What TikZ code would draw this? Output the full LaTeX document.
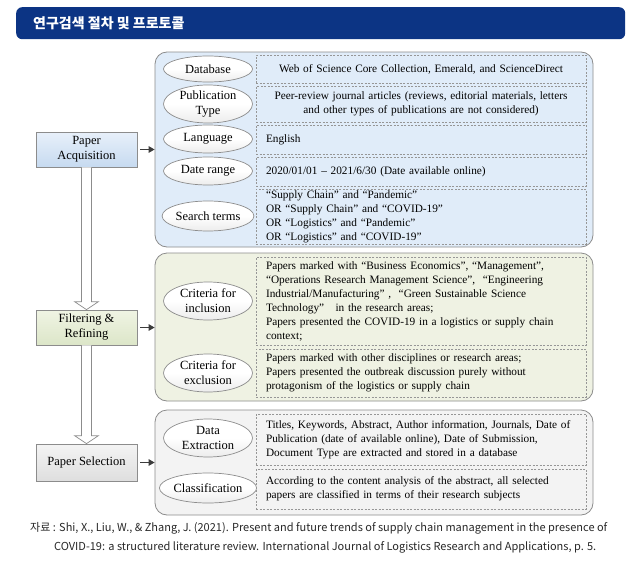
\documentclass[tikz,border=0pt]{standalone}
\usepackage{fontspec}
\setmainfont{Liberation Serif}
\newfontfamily\kr{Noto Sans CJK KR}
\usetikzlibrary{shapes.geometric,arrows.meta,calc}
\definecolor{navy}{RGB}{12,52,132}
\definecolor{pblue}{RGB}{224,236,249}
\definecolor{pgreen}{RGB}{239,242,227}
\definecolor{pgray}{RGB}{243,243,243}
\definecolor{edge}{RGB}{140,140,140}
\definecolor{dedge}{RGB}{150,150,150}
\definecolor{arrowc}{RGB}{60,60,60}
\definecolor{captc}{RGB}{40,40,40}
\begin{document}
\begin{tikzpicture}[x=1pt,y=-1pt,
  panel/.style={draw=edge, line width=0.8pt, rounded corners=12pt, inner sep=0pt, minimum width=438pt},
  leftbox/.style={draw=edge, line width=0.7pt, minimum width=101pt, minimum height=35pt, inner sep=0pt, align=center, font=\fontsize{12.5}{15}\selectfont},
  oval/.style={ellipse, draw=edge, line width=0.7pt, top color=white, bottom color={rgb,255:red,236;green,236;blue,236}, middle color=white, minimum width=89pt, inner sep=0pt, align=center, font=\fontsize{12.5}{15}\selectfont},
  dbox/.style={draw=dedge, dash pattern=on 2pt off 1.5pt, line width=0.6pt, minimum width=330pt, inner xsep=10pt, inner ysep=0pt, text width=310pt, font=\fontsize{11.3}{14}\selectfont},
  linkarrow/.style={draw=arrowc, line width=1.2pt, -{Triangle[length=6pt,width=6.5pt]}},
  hollow/.style={draw=edge, line width=0.7pt, fill=white, line join=miter}
]
\useasboundingbox (0,0) rectangle (642,562);
\fill[white] (0,0) rectangle (642,562);

% title
\node[fill=navy, rounded corners=6pt, minimum width=609pt, minimum height=32pt, inner sep=0pt, anchor=north west] (title) at (16,7) {};
\node[anchor=west, text=white, font=\kr\bfseries\fontsize{14}{16}\selectfont, inner sep=0pt] (titletext) at (33,23) {연구검색 절차 및 프로토콜};

% panels
\node[panel, fill=pblue, minimum height=195pt] (p1) at (374,149.5) {};
\node[panel, fill=pgreen, minimum height=148pt] (p2) at (374,327) {};
\node[panel, fill=pgray, minimum height=105pt] (p3) at (374,462.5) {};

% left boxes
\node[leftbox, top color={rgb,255:red,232;green,240;blue,250}, bottom color={rgb,255:red,198;green,218;blue,240}] (pa) at (86.5,149.5) {Paper\\Acquisition};
\node[leftbox, top color={rgb,255:red,240;green,244;blue,228}, bottom color={rgb,255:red,220;green,230;blue,200}] (fr) at (86.5,327.5) {Filtering \&\\Refining};
\node[leftbox, minimum height=37pt, top color={rgb,255:red,244;green,244;blue,244}, bottom color={rgb,255:red,222;green,222;blue,222}] (ps) at (86.5,462.5) {Paper Selection};

% hollow arrows
\draw[hollow] ($(pa.south)+(-5,0)$) -- ($(fr.north)+(-5,-8)$) -- ($(fr.north)+(-12,-8)$) -- (fr.north) -- ($(fr.north)+(12,-8)$) -- ($(fr.north)+(5,-8)$) -- ($(pa.south)+(5,0)$);
\draw[hollow] ($(fr.south)+(-5,0)$) -- ($(ps.north)+(-5,-8)$) -- ($(ps.north)+(-12,-8)$) -- (ps.north) -- ($(ps.north)+(12,-8)$) -- ($(ps.north)+(5,-8)$) -- ($(fr.south)+(5,0)$);

% link arrows
\draw[linkarrow] ($(pa.east)+(3,0)$) -- (p1.west |- pa.east);
\draw[linkarrow] ($(fr.east)+(3,0)$) -- (p2.west |- fr.east);
\draw[linkarrow] ($(ps.east)+(3,0)$) -- (p3.west |- ps.east);

% panel 1
\node[oval, minimum height=26pt] (eDB) at (208,69) {Database};
\node[oval, minimum height=38pt] (ePT) at (208,104) {Publication\\Type};
\node[oval, minimum height=28pt] (eLA) at (208,139) {Language};
\node[oval, minimum height=28pt] (eDR) at (208,171) {Date range};
\node[oval, minimum height=30pt] (eST) at (208,216) {Search terms};

\node[dbox, minimum height=28pt, align=center] (bDB) at (421,69) {Web of Science Core Collection, Emerald, and ScienceDirect};
\node[dbox, minimum height=36pt, align=center] (bPT) at (421,104) {Peer-review journal articles (reviews, editorial materials, letters\\and other types of publications are not considered)};
\node[dbox, minimum height=29pt, align=left] (bLA) at (421,139.5) {English};
\node[dbox, minimum height=29pt, align=left] (bDR) at (421,171.5) {2020/01/01 – 2021/6/30 (Date available online)};
\node[dbox, minimum height=55pt, align=left] (bST) at (421,216.5) {“Supply Chain” and “Pandemic”\\OR “Supply Chain” and “COVID-19”\\OR “Logistics” and “Pandemic”\\OR “Logistics” and “COVID-19”};

% panel 2
\node[oval, minimum height=38pt] (eIN) at (208,301) {Criteria for\\inclusion};
\node[oval, minimum height=38pt] (eEX) at (208,373) {Criteria for\\exclusion};
\node[dbox, minimum height=88pt, align=left] (bIN) at (421,301) {Papers marked with “Business Economics”, “Management”,\\“Operations Research Management Science”, \ “Engineering\\Industrial/Manufacturing” , \ “Green Sustainable Science\\Technology” \ \ in the research areas;\\Papers presented the COVID-19 in a logistics or supply chain\\context;};
\node[dbox, minimum height=48pt, align=left] (bEX) at (421,373) {Papers marked with other disciplines or research areas;\\Papers presented the outbreak discussion purely without\\protagonism of the logistics or supply chain};

% panel 3
\node[oval, minimum height=38pt] (eDE) at (208,438) {Data\\Extraction};
\node[oval, minimum height=30pt] (eCL) at (208,488) {Classification};
\node[dbox, minimum height=51pt, align=left] (bDE) at (421,439.5) {Titles, Keywords, Abstract, Author information, Journals, Date of\\Publication (date of available online), Date of Submission,\\Document Type are extracted and stored in a database};
\node[dbox, minimum height=40pt, align=left] (bCL) at (421,489) {According to the content analysis of the abstract, all selected\\papers are classified in terms of their research subjects};

% caption
\node[anchor=west, inner sep=0pt, text=captc, font=\kr\fontsize{11}{13}\selectfont] (cap1) at (30,528) {자료 : Shi, X., Liu, W., \& Zhang, J. (2021). Present and future trends of supply chain management in the presence of};
\node[anchor=west, inner sep=0pt, text=captc, font=\kr\fontsize{11}{13}\selectfont] (cap2) at (54,547) {COVID-19: a structured literature review. International Journal of Logistics Research and Applications, p. 5.};
\end{tikzpicture}
\end{document}
